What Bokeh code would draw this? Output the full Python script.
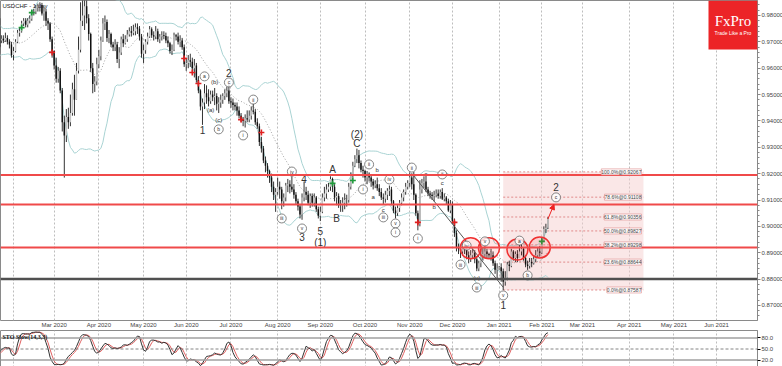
import numpy as np
import pandas as pd
from bokeh.plotting import figure
from bokeh.layouts import column
from bokeh.models import (Range1d, FixedTicker, Span, BoxAnnotation, Label, Arrow,
                          NormalHead, NumeralTickFormatter)
from bokeh.core.properties import value
from bokeh.embed import file_html
from bokeh.resources import INLINE

SYMBOL = "USDCHF - 1 day"
STO_TITLE = "STO Slow(14,3,3)"

# daily bars: (high, low, close) in 1e-4 units, one list per month
DEC19 = [(9815, 9770, 9790), (9800, 9765, 9780), (9790, 9770, 9780), (9790, 9760, 9775), (9785, 9735, 9745),
         (9750, 9700, 9710), (9715, 9665, 9680)]
JAN20 = [(9710, 9665, 9700), (9725, 9680, 9712), (9720, 9685, 9695), (9725, 9690, 9718), (9765, 9705, 9745),
         (9770, 9730, 9750), (9760, 9720, 9735), (9740, 9710, 9718), (9722, 9675, 9683), (9690, 9650, 9660),
         (9675, 9640, 9655), (9690, 9650, 9683), (9695, 9675, 9688), (9700, 9670, 9682), (9700, 9670, 9690),
         (9715, 9680, 9705), (9725, 9695, 9712), (9725, 9695, 9705), (9735, 9700, 9715), (9725, 9690, 9700),
         (9710, 9675, 9690), (9700, 9640, 9650)]
FEB20 = [(9680, 9630, 9665), (9710, 9660, 9700), (9745, 9695, 9735), (9755, 9720, 9740), (9780, 9735, 9770),
         (9790, 9760, 9780), (9790, 9755, 9765), (9790, 9755, 9780), (9800, 9770, 9788), (9820, 9780, 9815),
         (9825, 9800, 9815), (9840, 9805, 9830), (9845, 9815, 9835), (9850, 9815, 9840), (9848, 9800, 9808),
         (9830, 9780, 9815), (9825, 9760, 9780), (9790, 9745, 9770), (9775, 9700, 9710), (9720, 9640, 9665)]
MAR20 = [(9668, 9595, 9610), (9640, 9545, 9560), (9605, 9545, 9590), (9600, 9505, 9515), (9525, 9360, 9395),
         (9420, 9185, 9345), (9445, 9320, 9415), (9450, 9370, 9395), (9500, 9380, 9430), (9545, 9420, 9520),
         (9575, 9420, 9480), (9620, 9480, 9590), (9720, 9580, 9670), (9850, 9660, 9780), (9902, 9760, 9800),
         (9880, 9745, 9835), (9870, 9770, 9790), (9805, 9705, 9730), (9735, 9585, 9600), (9620, 9505, 9540),
         (9570, 9510, 9550), (9640, 9535, 9615)]
APR20 = [(9670, 9600, 9645), (9720, 9630, 9705), (9790, 9700, 9770), (9800, 9745, 9775), (9785, 9700, 9715),
         (9745, 9695, 9730), (9735, 9680, 9690), (9700, 9665, 9680), (9710, 9665, 9690), (9700, 9620, 9635),
         (9680, 9600, 9660), (9720, 9650, 9710), (9730, 9680, 9695), (9725, 9690, 9710), (9745, 9700, 9728),
         (9755, 9720, 9740), (9760, 9720, 9735), (9765, 9725, 9740), (9770, 9725, 9755), (9770, 9730, 9750),
         (9760, 9705, 9720), (9730, 9640, 9655)]
MAY20 = [(9690, 9620, 9668), (9710, 9655, 9700), (9735, 9690, 9720), (9760, 9715, 9748), (9755, 9715, 9725),
         (9740, 9705, 9720), (9760, 9710, 9740), (9750, 9700, 9710), (9730, 9695, 9720), (9740, 9705, 9725),
         (9740, 9710, 9722), (9735, 9695, 9705), (9720, 9680, 9695), (9700, 9655, 9665), (9690, 9650, 9670),
         (9735, 9665, 9725), (9730, 9705, 9720), (9735, 9690, 9700), (9725, 9680, 9705), (9715, 9670, 9680),
         (9690, 9605, 9615)]
JUN20 = [(9640, 9590, 9620), (9650, 9600, 9630), (9655, 9605, 9625), (9640, 9580, 9600), (9635, 9565, 9610),
         (9620, 9545, 9555), (9570, 9505, 9515), (9520, 9440, 9455), (9485, 9385, 9470), (9540, 9445, 9505),
         (9535, 9465, 9490), (9520, 9455, 9475), (9515, 9465, 9500), (9515, 9475, 9490), (9525, 9460, 9495),
         (9505, 9440, 9465), (9490, 9430, 9470), (9500, 9450, 9480), (9505, 9465, 9495), (9520, 9480, 9505),
         (9530, 9490, 9515), (9540, 9465, 9475)]
JUL20 = [(9490, 9450, 9470), (9485, 9440, 9460), (9470, 9440, 9455), (9470, 9420, 9440), (9455, 9410, 9420),
         (9430, 9395, 9405), (9415, 9380, 9400), (9425, 9375, 9410), (9440, 9395, 9405), (9440, 9395, 9420),
         (9455, 9405, 9440), (9465, 9425, 9435), (9445, 9385, 9395), (9410, 9370, 9380), (9390, 9305, 9320),
         (9340, 9280, 9295), (9305, 9240, 9250), (9265, 9205, 9230), (9240, 9185, 9210), (9215, 9165, 9185),
         (9200, 9130, 9150), (9170, 9100, 9120), (9145, 9055, 9130)]
AUG20 = [(9185, 9120, 9150), (9170, 9105, 9140), (9150, 9065, 9095), (9125, 9075, 9110), (9165, 9095, 9155),
         (9180, 9130, 9160), (9175, 9125, 9150), (9190, 9130, 9140), (9160, 9105, 9120), (9130, 9085, 9095),
         (9105, 9060, 9075), (9085, 9030, 9045), (9125, 9025, 9110), (9170, 9095, 9130), (9150, 9100, 9120),
         (9135, 9080, 9090), (9125, 9070, 9115), (9125, 9075, 9090), (9125, 9075, 9110), (9115, 9055, 9065),
         (9075, 9030, 9040)]
SEP20 = [(9075, 9020, 9055), (9125, 9050, 9110), (9150, 9095, 9125), (9160, 9105, 9140), (9165, 9130, 9150),
         (9190, 9135, 9180), (9185, 9130, 9150), (9160, 9095, 9110), (9130, 9080, 9115), (9125, 9070, 9080),
         (9100, 9055, 9080), (9110, 9055, 9090), (9125, 9065, 9100), (9120, 9075, 9100), (9165, 9090, 9150),
         (9205, 9140, 9195), (9245, 9185, 9230), (9270, 9225, 9255), (9295, 9240, 9270), (9290, 9220, 9240),
         (9250, 9205, 9215), (9230, 9185, 9210)]
OCT20 = [(9215, 9170, 9185), (9210, 9160, 9200), (9205, 9170, 9185), (9195, 9150, 9170), (9180, 9140, 9155),
         (9175, 9145, 9160), (9185, 9135, 9145), (9160, 9115, 9130), (9145, 9100, 9110), (9125, 9085, 9105),
         (9135, 9090, 9120), (9145, 9100, 9135), (9155, 9115, 9140), (9150, 9080, 9095), (9100, 9050, 9060),
         (9075, 9030, 9050), (9080, 9040, 9070), (9100, 9055, 9090), (9125, 9080, 9110), (9140, 9095, 9130),
         (9165, 9120, 9150), (9175, 9140, 9165)]
NOV20 = [(9205, 9150, 9185), (9200, 9140, 9160), (9207, 9100, 9120), (9125, 9040, 9050), (9060, 8985, 9010),
         (9175, 9000, 9140), (9180, 9125, 9165), (9190, 9145, 9170), (9195, 9130, 9140), (9150, 9115, 9125),
         (9135, 9105, 9120), (9130, 9100, 9115), (9135, 9095, 9120), (9140, 9110, 9125), (9140, 9105, 9115),
         (9140, 9105, 9130), (9145, 9100, 9105), (9125, 9095, 9110), (9115, 9085, 9095), (9105, 9055, 9060),
         (9100, 9050, 9085)]
DEC20 = [(9095, 9010, 9020), (9030, 8960, 8975), (8985, 8905, 8920), (8935, 8895, 8915), (8930, 8880, 8905),
         (8935, 8890, 8920), (8935, 8895, 8910), (8925, 8875, 8890), (8905, 8860, 8875), (8910, 8865, 8890),
         (8915, 8880, 8900), (8910, 8860, 8875), (8885, 8830, 8840), (8870, 8830, 8860), (8915, 8845, 8890),
         (8920, 8870, 8895), (8925, 8880, 8905), (8915, 8880, 8895), (8900, 8880, 8890), (8915, 8870, 8890),
         (8905, 8850, 8860), (8870, 8820, 8835), (8860, 8800, 8840)]
JAN21 = [(8850, 8835, 8845), (8860, 8790, 8830), (8840, 8758, 8790), (8830, 8775, 8805), (8865, 8795, 8855),
         (8870, 8830, 8850), (8915, 8845, 8905), (8910, 8870, 8880), (8905, 8865, 8895), (8910, 8865, 8880),
         (8930, 8880, 8905), (8935, 8890, 8915), (8920, 8870, 8880), (8890, 8845, 8855), (8870, 8835, 8850),
         (8880, 8840, 8865), (8880, 8845, 8860), (8890, 8855, 8875), (8910, 8865, 8890), (8920, 8880, 8905),
         (8925, 8885, 8900)]
FEB21 = [(8960, 8895, 8945), (9000, 8940, 8990), (9010, 8975, 8995), (9035, 8990, 9028)]

MONTHS = [("2019-12-23", DEC19), ("2020-01-02", JAN20), ("2020-02-03", FEB20), ("2020-03-02", MAR20),
          ("2020-04-01", APR20), ("2020-05-01", MAY20), ("2020-06-01", JUN20), ("2020-07-01", JUL20),
          ("2020-08-03", AUG20), ("2020-09-01", SEP20), ("2020-10-01", OCT20), ("2020-11-02", NOV20),
          ("2020-12-01", DEC20), ("2021-01-01", JAN21), ("2021-02-01", FEB21)]

PRICE_TICKS = [0.87, 0.88, 0.89, 0.90, 0.91, 0.92, 0.93, 0.94, 0.95, 0.96, 0.97, 0.98]
RED_LEVELS = [0.9195, 0.9083, 0.8920]
BLACK_LEVELS = [0.8800]
FIB_PCT = [0.0, 23.6, 38.2, 50.0, 61.8, 78.6, 100.0]
FIB_LOW, FIB_HIGH = 0.87587, 0.92067
FIB_START, FIB_END = "2021-01-05", "2021-04-12"
TREND_DATES = ["2020-11-03", "2021-01-05"]
TREND_PRICES = [0.9201, 0.8769]
CIRCLE_DATES = ["2020-12-14", "2020-12-25", "2021-01-14", "2021-01-29"]
CIRCLE_PRICES = [0.8917, 0.8917, 0.8912, 0.8920]
ARROW_END = ("2021-02-09", 0.9083)
LAST_PRICE = 0.90281
ASK_PRICE = 0.89553
STO_LEVELS = [20, 50, 80]

# band-break signal crosses
SIG_DATES = ["2020-02-07", "2020-02-14", "2020-02-28", "2020-05-29", "2020-06-04", "2020-06-09", "2020-07-08",
             "2020-07-22", "2020-09-09", "2020-09-23", "2020-11-06", "2020-12-02", "2021-02-01"]
SIG_PRICES = [0.9754, 0.9811, 0.9660, 0.9637, 0.9584, 0.9542, 0.9405, 0.9356, 0.9163, 0.9174, 0.9015, 0.9015,
              0.8943]
SIG_KIND = ["buy", "buy", "sell", "sell", "sell", "sell", "sell", "sell", "buy", "buy", "sell", "sell", "buy"]

BIG_TXT = ["1", "2", "3", "4", "5", "(1)", "A", "B", "(2)", "C", "1", "2"]
BIG_DATES = ["2020-06-11", "2020-06-30", "2020-08-19", "2020-08-20", "2020-09-01", "2020-09-01",
             "2020-09-09", "2020-09-11", "2020-09-25", "2020-09-25", "2021-01-05", "2021-02-10"]
BIG_PRICES = [0.9364, 0.9580, 0.8958, 0.9178, 0.8981, 0.8939, 0.9216, 0.9030, 0.9349, 0.9314, 0.8700, 0.9148]

SMALL_TXT = ["(a)", "(b)", "(c)", "a", "b", "c", "a", "b", "c", "(v)"]
SMALL_DATES = ["2020-06-17", "2020-06-19", "2020-06-23", "2020-10-07", "2020-10-09", "2020-10-14",
               "2020-11-12", "2020-11-18", "2020-11-24", "2020-12-17"]
SMALL_PRICES = [0.9443, 0.9546, 0.9402, 0.9113, 0.9212, 0.9064, 0.9200, 0.9072, 0.9163, 0.8806]

CIRC_TXT = ["a", "b", "c", "i", "ii", "iii", "iv", "v", "i", "ii", "iii", "iv", "v", "i", "ii", "i", "ii",
            "iii", "iv", "iii", "v", "v", "a", "b", "c"]
CIRC_DATES = ["2020-06-12", "2020-06-23", "2020-06-30", "2020-07-09", "2020-07-16", "2020-08-05", "2020-08-12",
              "2020-08-19", "2020-09-30", "2020-10-05", "2020-10-14", "2020-10-19", "2020-10-22", "2020-10-22",
              "2020-11-03", "2020-11-06", "2020-11-24", "2020-12-07", "2020-12-10", "2020-12-17", "2020-12-23",
              "2021-01-05", "2021-01-15", "2021-01-21", "2021-02-10"]
CIRC_PRICES = [0.9569, 0.9368, 0.9546, 0.9345, 0.9481, 0.9030, 0.9208, 0.8992, 0.9140, 0.9235, 0.9034, 0.9178,
               0.9011, 0.8977, 0.9223, 0.8954, 0.9197, 0.8855, 0.8927, 0.8768, 0.8943, 0.8738, 0.8946, 0.8814,
               0.9110]

FONT = value("Liberation Sans")

# ---------- data preparation ----------
CAL = pd.bdate_range("2019-12-23", "2021-07-30")
POS = {d: i for i, d in enumerate(CAL)}


def xp(s):
    return POS[pd.Timestamp(s)]


rows = []
for start, data in MONTHS:
    days = pd.bdate_range(start, periods=len(data))
    for d, (h, l, c) in zip(days, data):
        rows.append((d, h / 1e4, l / 1e4, c / 1e4))
df = pd.DataFrame(rows, columns=["date", "high", "low", "close"])
df["open"] = df["close"].shift(1).fillna(df["close"])
df["x"] = [POS[d] for d in df["date"]]
mid = df["close"].rolling(20).mean()
sd = df["close"].rolling(20).std(ddof=0)
df["mid"], df["bu"], df["bl"] = mid, mid + 2 * sd, mid - 2 * sd
df["top"] = df[["open", "close"]].max(axis=1)
df["bot"] = df[["open", "close"]].min(axis=1)
hh = df["high"].rolling(14).max()
ll = df["low"].rolling(14).min()
raw = 100 * (df["close"] - ll) / (hh - ll)
df["k"] = raw.rolling(3).mean()
df["d"] = df["k"].rolling(3).mean()
up = df[df["close"] >= df["open"]]
dn = df[df["close"] < df["open"]]

# month ticks
month_starts = pd.date_range("2020-02-01", "2021-06-01", freq="MS")
TICKS, OVR = [], {}
for m in month_starts:
    d = CAL[CAL >= m][0]
    TICKS.append(POS[d])
    OVR[POS[d]] = "" if m == month_starts[0] else m.strftime("%b %Y")

PX_PER_BAR = 2.032
x0 = xp("2020-02-03") - 13 / PX_PER_BAR
x1 = x0 + 757 / PX_PER_BAR
xr = Range1d(x0, x1)

# ---------- main chart ----------
p = figure(frame_width=757, frame_height=320, x_range=xr, y_range=Range1d(0.86429, 0.98569),
           output_backend="svg", toolbar_location=None, min_border=0, y_axis_location="right",
           outline_line_color="#8a8a8a", background_fill_color="white")
p.yaxis.ticker = FixedTicker(ticks=PRICE_TICKS,
                             minor_ticks=list(np.round(np.arange(0.864, 0.986, 0.002), 3)))
p.yaxis.formatter = NumeralTickFormatter(format="0.00000")
p.yaxis.major_label_text_font_size = "6px"
p.yaxis.major_label_text_font = "Liberation Sans"
p.yaxis.major_label_text_color = "#444"
p.yaxis.major_label_standoff = 1
p.yaxis.major_tick_out = 3
p.yaxis.major_tick_in = 0
p.yaxis.minor_tick_out = 2
p.yaxis.minor_tick_in = 0
p.yaxis.axis_line_color = "#888"
p.yaxis.major_tick_line_color = "#888"
p.yaxis.minor_tick_line_color = "#888"

p.xaxis.ticker = FixedTicker(ticks=TICKS)
p.xaxis.major_label_overrides = OVR
p.xaxis.major_label_text_font_size = "6px"
p.xaxis.major_label_text_font = "Liberation Sans"
p.xaxis.major_label_text_color = "#444"
p.xaxis.major_label_standoff = 1
p.xaxis.major_tick_out = 0
p.xaxis.major_tick_in = 0
p.xaxis.minor_tick_line_color = None
p.xaxis.axis_line_color = None
p.xgrid.ticker = FixedTicker(ticks=TICKS)
p.xgrid.grid_line_color = "#bdbdbd"
p.xgrid.grid_line_dash = "2 2"
p.ygrid.visible = False

# fib box
fib_prices = [FIB_LOW + (FIB_HIGH - FIB_LOW) * f / 100 for f in FIB_PCT]
p.quad(left=[xp(FIB_START)], right=[xp(FIB_END)], bottom=[FIB_LOW], top=[FIB_HIGH],
       fill_color="#f6cfcf", fill_alpha=0.5, line_color=None)
for f, pr in zip(FIB_PCT, fib_prices):
    p.line([xp(FIB_START), xp(FIB_END)], [pr, pr], line_color="#e08a8a", line_dash="2 2", line_width=1)

# bollinger
p.line(df["x"], df["bu"], line_color="#a9d3d3", line_width=1)
p.line(df["x"], df["bl"], line_color="#a9d3d3", line_width=1)
p.line(df["x"], df["mid"], line_color="#8c8c8c", line_width=0.8, line_dash="1 2")

# candles
p.segment(df["x"], df["high"], df["x"], df["low"], line_color="#333333", line_width=1)
p.vbar(up["x"], 0.7, up["top"], up["bot"], fill_color="#c4c4c4", line_color=None)
p.vbar(dn["x"], 0.7, dn["top"], dn["bot"], fill_color="#111111", line_color=None)

# signal crosses
for kind, col in (("buy", "#1f9a3a"), ("sell", "#e02020")):
    xs = [xp(d) for d, k in zip(SIG_DATES, SIG_KIND) if k == kind]
    ys = [v for v, k in zip(SIG_PRICES, SIG_KIND) if k == kind]
    p.scatter(xs, ys, marker="cross", size=6, line_color=col, line_width=1.6)

# levels
for lv in RED_LEVELS:
    p.add_layout(Span(location=lv, dimension="width", line_color="#f04a4a", line_width=2))
for lv in BLACK_LEVELS:
    p.add_layout(Span(location=lv, dimension="width", line_color="#505050", line_width=2.5))

# trend line
p.line([xp(d) for d in TREND_DATES], TREND_PRICES, line_color="#555", line_width=1)

# red circles
p.scatter([xp(d) for d in CIRCLE_DATES], CIRCLE_PRICES, size=21, marker="circle",
          fill_color="#ff3030", fill_alpha=0.12, line_color="#f03030", line_width=1.5)

# arrow
p.add_layout(Arrow(end=NormalHead(size=5, fill_color="#ee2222", line_color="#ee2222"),
                   x_start=df["x"].iloc[-1], y_start=df["close"].iloc[-1],
                   x_end=xp(ARROW_END[0]), y_end=ARROW_END[1], line_color="#ee2222", line_width=1))

# wave labels
p.text([xp(d) for d in BIG_DATES], BIG_PRICES, text=BIG_TXT, text_font=FONT, text_font_size="10px",
       text_align="center", text_baseline="middle", text_color="#333")
p.text([xp(d) for d in SMALL_DATES], SMALL_PRICES, text=SMALL_TXT, text_font=FONT, text_font_size="6px",
       text_align="center", text_baseline="middle", text_color="#333")
p.scatter([xp(d) for d in CIRC_DATES], CIRC_PRICES, size=9, marker="circle", fill_color="white",
          fill_alpha=0.8, line_color="#666", line_width=0.8)
p.text([xp(d) for d in CIRC_DATES], CIRC_PRICES, text=CIRC_TXT, text_font=FONT, text_font_size="5px",
       text_align="center", text_baseline="middle", text_color="#333")

# fib labels
for f, pr in zip(FIB_PCT, fib_prices):
    p.add_layout(Label(x=xp(FIB_END), y=pr, x_offset=-2, text=f"{f:.1f}%@{pr:.5f}", text_font="Liberation Sans",
                       text_font_size="5px", anchor="center_right", text_color="#444",
                       background_fill_color="white", background_fill_alpha=0.85,
                       border_line_color="#d88", border_line_width=0.6))

# symbol text
p.add_layout(Label(x=2, y=315, x_units="screen", y_units="screen", text=SYMBOL, text_font="Liberation Sans",
                   text_font_size="6px", text_baseline="middle", text_color="#222"))

# logo
p.add_layout(BoxAnnotation(left=708, right=757, top=320, bottom=271, left_units="screen", right_units="screen",
                           top_units="screen", bottom_units="screen", fill_color="#ec2427", fill_alpha=1,
                           line_color=None))
p.add_layout(Label(x=732.5, y=300, x_units="screen", y_units="screen", text="FxPro",
                   text_font="Liberation Serif", text_font_size="15px", text_align="center",
                   text_baseline="middle", text_color="white"))
p.add_layout(Label(x=732.5, y=288, x_units="screen", y_units="screen", text="Trade Like a Pro",
                   text_font="Liberation Sans", text_font_size="5px", text_align="center",
                   text_baseline="middle", text_color="white"))

# price boxes at the right axis
p.add_layout(Label(x=758, y=LAST_PRICE, x_units="screen", text=f"{LAST_PRICE:.5f}", text_font="Liberation Sans",
                   text_font_size="6px", text_baseline="middle", text_color="#333",
                   background_fill_color="white", border_line_color="#777", border_line_width=0.6))
p.add_layout(Label(x=758, y=ASK_PRICE, x_units="screen", text=f"{ASK_PRICE:.5f}", text_font="Liberation Sans",
                   text_font_size="6px", text_baseline="middle", text_color="#333",
                   background_fill_color="#c9d5ea", border_line_color="#7f93b8", border_line_width=0.6))

# ---------- stochastic ----------
s = figure(frame_width=757, frame_height=37, x_range=xr, y_range=Range1d(0, 100), output_backend="svg",
           toolbar_location=None, min_border=0, y_axis_location="right", x_axis_location=None,
           outline_line_color="#8a8a8a", background_fill_color="white")
s.yaxis.ticker = FixedTicker(ticks=STO_LEVELS)
s.yaxis.formatter = NumeralTickFormatter(format="0.0")
s.yaxis.major_label_text_font_size = "6px"
s.yaxis.major_label_text_font = "Liberation Sans"
s.yaxis.major_label_text_color = "#444"
s.yaxis.major_label_standoff = 1
s.yaxis.major_tick_out = 3
s.yaxis.major_tick_in = 0
s.yaxis.minor_tick_line_color = None
s.yaxis.axis_line_color = "#888"
s.xgrid.ticker = FixedTicker(ticks=TICKS)
s.xgrid.grid_line_color = "#bdbdbd"
s.xgrid.grid_line_dash = "2 2"
s.ygrid.visible = False
for lv in STO_LEVELS:
    if lv == 50:
        s.add_layout(Span(location=lv, dimension="width", line_color="#666", line_width=0.8, line_dash="3 2"))
    else:
        s.add_layout(Span(location=lv, dimension="width", line_color="#a0a0a0", line_width=1.5))
s.line(df["x"], df["d"], line_color="#e06060", line_width=1)
s.line(df["x"], df["k"], line_color="#333333", line_width=1)
s.add_layout(Label(x=2, y=31, x_units="screen", y_units="screen", text=STO_TITLE, text_font="Liberation Serif",
                   text_font_size="6px", text_font_style="bold", text_baseline="middle", text_color="#111"))

layout = column(p, s, spacing=0)
open("out.html", "w").write(file_html(layout, INLINE))
